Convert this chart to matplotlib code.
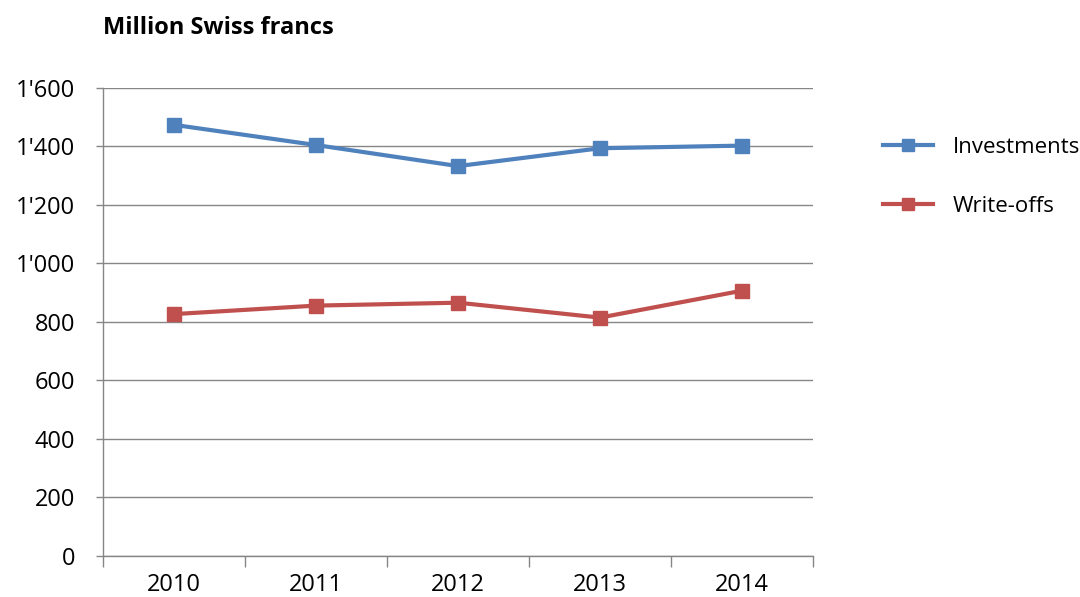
import numpy as np
import matplotlib
matplotlib.use('Agg')
import matplotlib.pyplot as plt
from matplotlib.ticker import FuncFormatter

plt.rcParams['font.family'] = ['Open Sans', 'DejaVu Sans']

# Data (million CHF)
years = ['2010', '2011', '2012', '2013', '2014']
investments = [1474, 1405, 1333, 1394, 1403]
write_offs = [827, 856, 866, 815, 907]

blue = '#4F81BD'
red = '#C0504D'
grey = '#868686'

fig = plt.figure(figsize=(10.8, 5.97), dpi=100)
ax = fig.add_axes([0.0954, 0.0687, 0.6574, 0.7839])

x = np.arange(len(years))
ax.plot(x, investments, color=blue, lw=3, marker='s', ms=10, label='Investments')
ax.plot(x, write_offs, color=red, lw=3, marker='s', ms=10, label='Write-offs')

ax.set_xlim(-0.5, len(years) - 0.5)
ax.set_ylim(0, 1600)
ax.set_yticks(np.arange(0, 1601, 200))
ax.yaxis.set_major_formatter(FuncFormatter(lambda v, p: f"{int(v):,}".replace(',', "'")))

ax.set_xticks(x)
ax.set_xticklabels(years)
ax.set_xticks(np.arange(-0.5, len(years), 1), minor=True)
ax.tick_params(axis='x', which='major', length=0, pad=12, labelsize=17)
ax.tick_params(axis='x', which='minor', length=8, width=1, color=grey, direction='out')
ax.tick_params(axis='y', length=5, width=1, color=grey, pad=15, labelsize=17)

ax.grid(axis='y', color=grey, lw=1)
ax.set_axisbelow(True)
for s in ['top', 'right']:
    ax.spines[s].set_visible(False)
for s in ['left', 'bottom']:
    ax.spines[s].set_color(grey)
    ax.spines[s].set_linewidth(1)

fig.text(0.0954, 0.953, 'Million Swiss francs', fontsize=17, fontweight='bold', va='center')

ax.legend(loc='upper left', bbox_to_anchor=(0.809, 0.785), bbox_transform=fig.transFigure,
          frameon=False, fontsize=16, handlelength=2.25, labelspacing=1.7,
          handletextpad=0.9, markerscale=0.85, borderaxespad=0)

fig.savefig('out.png', dpi=100)
